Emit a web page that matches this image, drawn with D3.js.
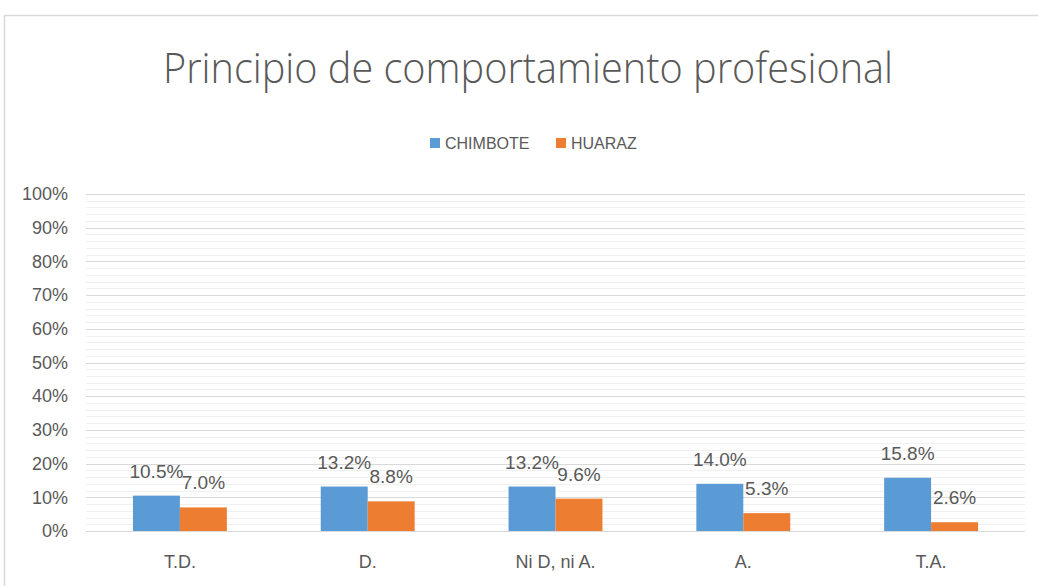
<!DOCTYPE html>
<html>
<head>
<meta charset="utf-8">
<script src="https://cdn.jsdelivr.net/npm/d3@7"></script>
<style>
  body { margin: 0; background: #fff; }
  text { font-family: "Liberation Sans", Arial, sans-serif; fill: #595959; }
</style>
</head>
<body>
<script>
const width = 1038;
const height = 586;

// data
const categories = ["T.D.", "D.", "Ni D, ni A.", "A.", "T.A."];
const seriesNames = ["CHIMBOTE", "HUARAZ"];
const chimbote = [0.105, 0.132, 0.132, 0.140, 0.158];
const huaraz = [0.070, 0.088, 0.096, 0.053, 0.026];
const colors = ["#5B9BD5", "#ED7D31"];
const title = "Principio de comportamiento profesional";

const margin = {top: 194, right: 13, bottom: 55, left: 86};

const svg = d3.select("body")
    .append("svg")
    .attr("width", width)
    .attr("height", height);

// chart frame
svg.append("rect")
    .attr("x", 4.5).attr("y", 15.5)
    .attr("width", 1050).attr("height", 600)
    .attr("fill", "none")
    .attr("stroke", "#d9d9d9")
    .attr("stroke-width", 1.5);

const x = d3.scaleBand()
    .domain(categories)
    .range([margin.left, width - margin.right]);

const x1 = d3.scaleBand()
    .domain(seriesNames)
    .range([x.bandwidth() * 0.25, x.bandwidth() * 0.75]);

const y = d3.scaleLinear()
    .domain([0, 1])
    .range([height - margin.bottom, margin.top]);

// minor gridlines
svg.append("g")
    .selectAll("line")
    .data(d3.range(0, 1.001, 0.02).filter((d) => Math.round(d * 100) % 10 !== 0))
    .join("line")
    .attr("x1", margin.left).attr("x2", width - margin.right)
    .attr("y1", (d) => Math.round(y(d)) + 0.5)
    .attr("y2", (d) => Math.round(y(d)) + 0.5)
    .attr("stroke", "#f0f0f0");

// major gridlines
svg.append("g")
    .selectAll("line")
    .data(y.ticks(10))
    .join("line")
    .attr("x1", margin.left).attr("x2", width - margin.right)
    .attr("y1", (d) => Math.round(y(d)) + 0.5)
    .attr("y2", (d) => Math.round(y(d)) + 0.5)
    .attr("stroke", "#d9d9d9");

// y axis labels
const yAxis = svg.append("g")
    .attr("transform", "translate(" + (margin.left - 18) + ",0)")
    .call(d3.axisLeft(y).ticks(10).tickFormat(d3.format(".0%")).tickSize(0).tickPadding(0));
yAxis.select(".domain").remove();
yAxis.selectAll("text")
    .attr("font-size", 18)
    .attr("font-family", null)
    .attr("fill", "#595959");

// x axis labels
const xAxis = svg.append("g")
    .attr("transform", "translate(0," + (height - margin.bottom) + ")")
    .call(d3.axisBottom(x).tickSize(0).tickPadding(24));
xAxis.select(".domain").remove();
xAxis.selectAll("text")
    .attr("font-size", 18)
    .attr("font-family", null)
    .attr("fill", "#595959");

const rows = categories.map((c, i) => ({cat: c, values: [chimbote[i], huaraz[i]]}));

const groups = svg.append("g")
    .selectAll("g")
    .data(rows)
    .join("g")
    .attr("transform", (d) => "translate(" + x(d.cat) + ",0)");

groups.selectAll("rect")
    .data((d) => d.values.map((v, j) => ({name: seriesNames[j], value: v, j: j})))
    .join("rect")
    .attr("x", (d) => x1(d.name))
    .attr("width", x1.bandwidth())
    .attr("y", (d) => y(d.value))
    .attr("height", (d) => y(0) - y(d.value))
    .attr("fill", (d) => colors[d.j]);

groups.selectAll("text.lbl")
    .data((d) => d.values.map((v, j) => ({name: seriesNames[j], value: v})))
    .join("text")
    .attr("class", "lbl")
    .attr("x", (d) => x1(d.name) + x1.bandwidth() / 2)
    .attr("y", (d) => y(d.value) - 18)
    .attr("text-anchor", "middle")
    .attr("font-size", 19)
    .text((d) => d3.format(".1%")(d.value));

// title (thin weight like the original)
svg.append("text")
    .attr("x", 528)
    .attr("y", 83)
    .attr("text-anchor", "middle")
    .attr("font-size", 42)
    .style("font-family", "'Open Sans', 'Liberation Sans', sans-serif")
    .style("font-weight", 300)
    .attr("textLength", 730)
    .attr("lengthAdjust", "spacingAndGlyphs")
    .text(title);

// legend
const legendX = [430, 556];
const legend = svg.append("g")
    .selectAll("g")
    .data(seriesNames)
    .join("g")
    .attr("transform", (d, i) => "translate(" + legendX[i] + ",138)");
legend.append("rect")
    .attr("width", 10).attr("height", 10)
    .attr("fill", (d, i) => colors[i]);
legend.append("text")
    .attr("x", 15).attr("y", 11)
    .attr("font-size", 16)
    .text((d) => d);
</script>
</body>
</html>
